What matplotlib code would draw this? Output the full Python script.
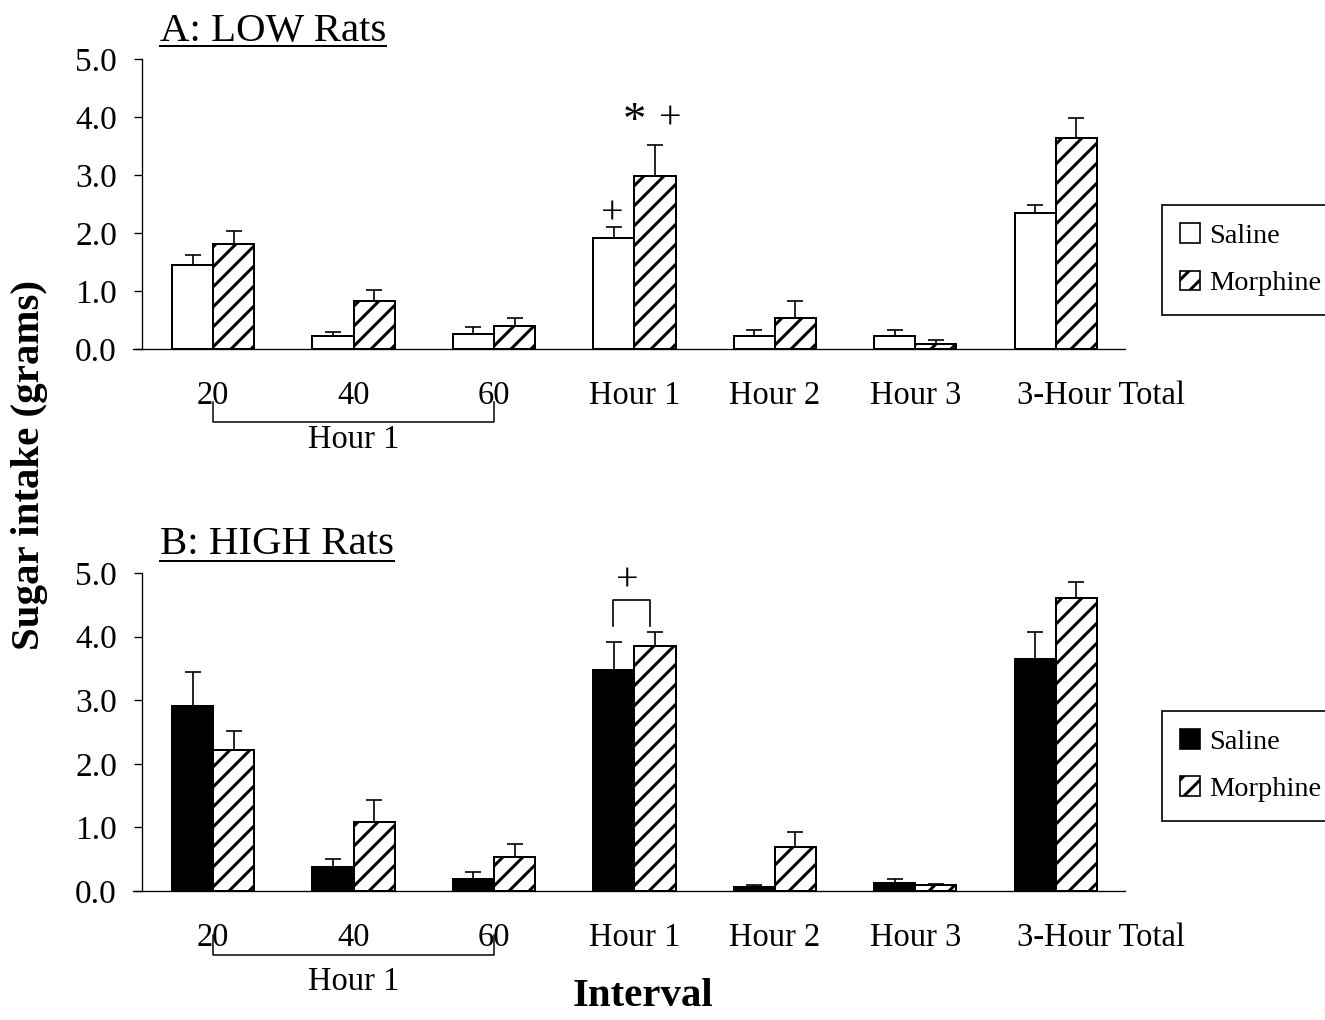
import matplotlib
matplotlib.use('Agg')
import matplotlib.pyplot as plt
from matplotlib.patches import Patch
from matplotlib.lines import Line2D
from matplotlib.ticker import FormatStrFormatter
from matplotlib.transforms import ScaledTranslation
import numpy as np

plt.rcParams['font.family'] = ['Liberation Serif', 'DejaVu Serif']
plt.rcParams['hatch.linewidth'] = 1.8

# data (grams), error = upper SEM only
intervals = ['20', '40', '60', 'Hour 1', 'Hour 2', 'Hour 3', '3-Hour Total']

low_saline = [1.44, 0.23, 0.26, 1.91, 0.22, 0.22, 2.34]
low_saline_err = [0.18, 0.06, 0.12, 0.19, 0.10, 0.10, 0.15]
low_morphine = [1.81, 0.83, 0.39, 2.99, 0.53, 0.09, 3.64]
low_morphine_err = [0.23, 0.18, 0.15, 0.53, 0.29, 0.065, 0.35]

high_saline = [2.91, 0.38, 0.19, 3.48, 0.07, 0.13, 3.64]
high_saline_err = [0.53, 0.12, 0.11, 0.44, 0.02, 0.065, 0.43]
high_morphine = [2.22, 1.09, 0.54, 3.85, 0.69, 0.09, 4.61]
high_morphine_err = [0.30, 0.34, 0.20, 0.22, 0.23, 0.02, 0.25]

W, H = 1325, 1020
DPI = 120
fig = plt.figure(figsize=(W / DPI, H / DPI), dpi=DPI)

x = np.arange(len(intervals))
w = 0.293


def panel(top, bottom, saline, s_err, morph, m_err, saline_color, br_y, lab_y):
    ax = fig.add_axes([133 / W, 1 - bottom / H, 992 / W, (bottom - top) / H])
    ax.bar(x - w / 2, saline, w, color=saline_color, edgecolor='black', lw=1.2, zorder=3)
    ax.bar(x + w / 2, morph, w, color='white', edgecolor='black', lw=1.2, hatch='//', zorder=3)
    zeros = np.zeros(len(x))
    ax.errorbar(x - w / 2, saline, yerr=[zeros, s_err], fmt='none', ecolor='black',
                elinewidth=1, capsize=5, capthick=1, zorder=2)
    ax.errorbar(x + w / 2, morph, yerr=[zeros, m_err], fmt='none', ecolor='black',
                elinewidth=1, capsize=5, capthick=1, zorder=2)
    ax.set_xlim(-0.571, 6.493)
    ax.set_ylim(0, 5)
    ax.set_xticks(x)
    ax.set_xticklabels(intervals)
    ax.set_yticks(np.arange(0, 6, 1))
    ax.yaxis.set_major_formatter(FormatStrFormatter('%.1f'))
    ax.tick_params(axis='x', length=0, pad=19, labelsize=19.5)
    ax.tick_params(axis='y', direction='out', length=5, width=0.8, pad=10, labelsize=20)
    # last label sits to the right of its bar pair, as in the original
    lbl = ax.get_xticklabels()[-1]
    lbl.set_transform(lbl.get_transform() + ScaledTranslation(45 / DPI, 0, fig.dpi_scale_trans))
    ax.spines['top'].set_visible(False)
    ax.spines['right'].set_visible(False)
    ax.spines['left'].set_position(('data', -0.507))
    ax.spines['left'].set_linewidth(0.8)
    ax.spines['bottom'].set_linewidth(0.8)
    # bracket grouping the 20/40/60 min bins into "Hour 1"
    hpx = bottom - top
    tr = ax.get_xaxis_transform()
    yb = -(br_y - bottom) / hpx
    yt = -(br_y - 20 - bottom) / hpx
    ax.plot([0, 0, 2, 2], [yt, yb, yb, yt], color='black', lw=0.9, transform=tr, clip_on=False)
    ax.text(1, -(lab_y - bottom) / hpx, 'Hour 1', transform=tr, ha='center', va='center', fontsize=19.5)
    return ax


def legend(top, saline_color):
    handles = [Patch(facecolor=saline_color, edgecolor='black', lw=1),
               Patch(facecolor='white', edgecolor='black', lw=1, hatch='//')]
    lg = fig.legend(handles, ['Saline', 'Morphine'], loc='upper left',
                    bbox_to_anchor=(1162 / W, 1 - top / H), frameon=True, fancybox=False,
                    edgecolor='black', framealpha=1, fontsize=17, borderpad=0.65,
                    labelspacing=0.75, handlelength=0.7, handleheight=0.7,
                    handletextpad=0.33, borderaxespad=0)
    lg.get_frame().set_linewidth(1)


axA = panel(59, 349, low_saline, low_saline_err, low_morphine, low_morphine_err, 'white', 422, 440)
axB = panel(573, 891, high_saline, high_saline_err, high_morphine, high_morphine_err, 'black', 955, 982)

# significance marks
axA.text(2.843, 2.32, '+', ha='center', va='center', fontsize=24)
axA.text(3.0, 3.9, '*', ha='center', va='center', fontsize=28)
axA.text(3.257, 3.97, '+', ha='center', va='center', fontsize=24)
axB.plot([2.846, 2.846, 3.109, 3.109], [4.16, 4.57, 4.57, 4.16], color='black', lw=1)
axB.text(2.95, 4.88, '+', ha='center', va='center', fontsize=24)

legend(205, 'white')
legend(711, 'black')

# panel titles, underlined
titles = []
titles.append((fig.text(160 / W, 1 - 31 / H, 'A: LOW Rats', fontsize=24.5, va='center', ha='left'), 46))
titles.append((fig.text(160 / W, 1 - 544 / H, 'B: HIGH Rats', fontsize=24.5, va='center', ha='left'), 561))

fig.text(30 / W, 1 - 465 / H, 'Sugar intake (grams)', rotation=90, fontsize=24.5,
         fontweight='bold', ha='center', va='center')
fig.text(643 / W, 1 - 997 / H, 'Interval', fontsize=24.5, fontweight='bold',
         ha='center', va='center')

fig.canvas.draw()
for t, uy in titles:
    bb = t.get_window_extent()
    fig.add_artist(Line2D([bb.x0 / W, bb.x1 / W], [1 - uy / H, 1 - uy / H],
                          transform=fig.transFigure, color='black', lw=1.2))

fig.savefig('out.png', dpi=DPI)
